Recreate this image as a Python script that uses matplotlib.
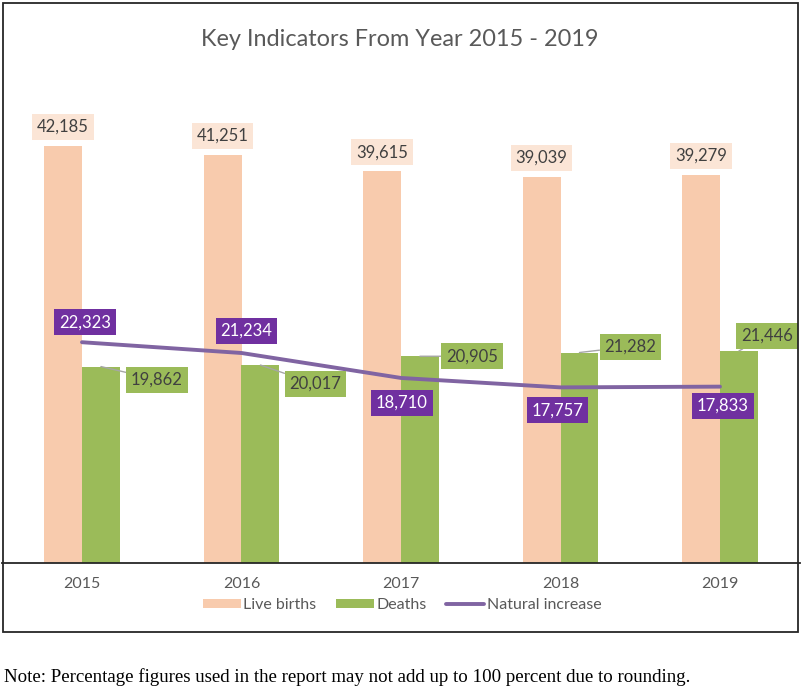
import matplotlib
matplotlib.use("Agg")
import matplotlib.pyplot as plt
from matplotlib.patches import Rectangle
import numpy as np

years = ["2015", "2016", "2017", "2018", "2019"]
live_births = [42185, 41251, 39615, 39039, 39279]
deaths = [19862, 20017, 20905, 21282, 21446]
natural_increase = [22323, 21234, 18710, 17757, 17833]

# label offsets in pixels (style only)
green_off = [(56, -13), (55, -19), (52, 0), (51, 6), (28, 15)]
purple_off = [(3, 20), (5, 22), (1, -25), (-3, -23), (3, -19)]

C_PEACH = "#F8CBAD"
C_PEACH_LBL = "#FBE5D6"
C_GREEN = "#9BBB59"
C_PURPLE_LINE = "#8064A2"
C_PURPLE_LBL = "#7030A0"
TXT = "#404040"
FONT = "Lato"
LBL_FS = 12

W, H = 806, 690
fig = plt.figure(figsize=(W / 100, H / 100), dpi=100)

# outer box
fig.patches.append(Rectangle((3 / W, 1 - 632 / H), (798 - 3) / W, (632 - 3) / H,
                             transform=fig.transFigure, fill=False,
                             edgecolor="#262626", linewidth=1.3))

ax_left, ax_right = 2.25 / W, 799.75 / W
ax_bottom = (H - 563) / H
ymax = 47000
px_per_unit = 0.00989
ax_h = ymax * px_per_unit / H
ax = fig.add_axes([ax_left, ax_bottom, ax_right - ax_left, ax_h])

x = np.arange(len(years))
bw = 0.2375
b1 = ax.bar(x - bw / 2, live_births, width=bw, color=C_PEACH, label="Live births")
b2 = ax.bar(x + bw / 2, deaths, width=bw, color=C_GREEN, label="Deaths")
l1, = ax.plot(x, natural_increase, color=C_PURPLE_LINE, linewidth=2.8,
              solid_capstyle="round", label="Natural increase")

ax.set_xlim(-0.5, len(years) - 0.5)
ax.set_ylim(0, ymax)
for s in ["top", "left", "right"]:
    ax.spines[s].set_visible(False)
ax.spines["bottom"].set_color("#262626")
ax.spines["bottom"].set_linewidth(1.3)
ax.set_yticks([])
ax.set_xticks(x)
ax.set_xticklabels(years, fontsize=11.5, color="#595959", fontfamily=FONT)
ax.tick_params(axis="x", length=0, pad=10)

for i, v in enumerate(live_births):
    ax.annotate(f"{v:,}", xy=(x[i] - bw / 2, v), xytext=(0, 19),
                textcoords="offset pixels", ha="center", va="center",
                fontsize=LBL_FS, color=TXT, fontfamily=FONT,
                bbox=dict(boxstyle="square,pad=0.3", fc=C_PEACH_LBL, ec="none"))

for i, v in enumerate(deaths):
    ax.annotate(f"{v:,}", xy=(x[i] + bw / 2, v), xytext=green_off[i],
                textcoords="offset pixels", ha="center", va="center",
                fontsize=LBL_FS, color=TXT, fontfamily=FONT,
                bbox=dict(boxstyle="square,pad=0.3", fc=C_GREEN, ec="none"),
                arrowprops=dict(arrowstyle="-", color="#A6A6A6", lw=1,
                                shrinkA=0, shrinkB=0))

for i, v in enumerate(natural_increase):
    ax.annotate(f"{v:,}", xy=(x[i], v), xytext=purple_off[i],
                textcoords="offset pixels", ha="center", va="center",
                fontsize=LBL_FS, color="white", fontfamily=FONT,
                bbox=dict(boxstyle="square,pad=0.3", fc=C_PURPLE_LBL, ec="none"))

fig.text(400 / W, 1 - 40 / H, "Key Indicators From Year 2015 - 2019",
         ha="center", va="center", fontsize=16.9, color="#595959", fontfamily=FONT)

leg = fig.legend([b1, b2, l1], ["Live births", "Deaths", "Natural increase"],
                 loc="center", bbox_to_anchor=(402 / W, 1 - 605 / H),
                 ncol=3, frameon=False, handlelength=2.4, handleheight=0.55,
                 columnspacing=1.2, handletextpad=0.15,
                 prop={"family": FONT, "size": 11.5})
for t in leg.get_texts():
    t.set_color("#595959")

fig.text(4 / W, 1 - 677 / H,
         "Note: Percentage figures used in the report may not add up to 100 percent due to rounding.",
         ha="left", va="center", fontsize=13.6, color="black", fontfamily="Liberation Serif")

fig.savefig("out.png", dpi=100)
